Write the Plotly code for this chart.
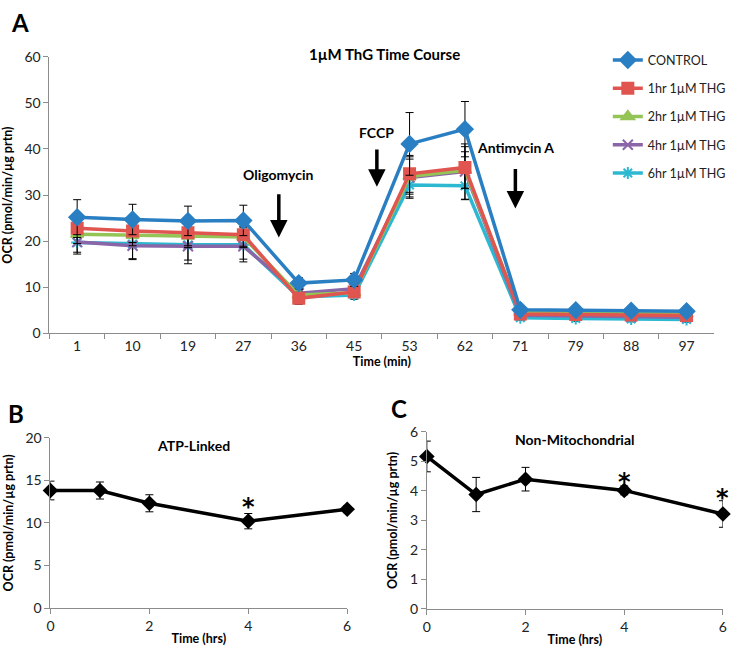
import plotly.graph_objects as go

# ---------------- data ----------------
time_min = ["1", "10", "19", "27", "36", "45", "53", "62", "71", "79", "88", "97"]
control = [25.2, 24.7, 24.4, 24.5, 10.9, 11.6, 41.1, 44.3, 5.1, 5.0, 4.9, 4.8]
control_err = [3.8, 3.3, 3.2, 3.3, 1.2, 1.4, 6.8, 6.0, 0.6, 0.6, 0.5, 0.5]
thg_1hr = [22.8, 22.2, 21.8, 21.4, 7.6, 9.0, 34.6, 36.0, 4.2, 4.1, 4.0, 3.9]
thg_1hr_err = [2.0, 2.5, 2.8, 2.5, 1.3, 1.0, 4.0, 4.5, 0.5, 0.5, 0.5, 0.5]
thg_2hr = [21.5, 21.3, 21.1, 20.9, 8.3, 8.8, 34.0, 35.4, 4.6, 4.5, 4.3, 4.2]
thg_2hr_err = [2.0, 2.3, 2.5, 2.3, 1.2, 1.0, 3.8, 4.0, 0.5, 0.5, 0.5, 0.5]
thg_4hr = [19.8, 19.0, 18.9, 18.9, 8.7, 9.7, 33.8, 35.1, 3.9, 3.8, 3.6, 3.5]
thg_4hr_err = [2.2, 2.8, 3.0, 2.8, 1.3, 1.0, 4.5, 6.0, 0.5, 0.5, 0.5, 0.5]
thg_6hr = [19.7, 19.4, 19.2, 19.2, 7.9, 8.3, 32.2, 32.0, 3.4, 3.2, 3.1, 3.0]
thg_6hr_err = [2.5, 3.4, 4.1, 3.7, 1.2, 0.9, 2.6, 3.0, 0.6, 0.6, 0.6, 0.6]

series_names = ["CONTROL", "1hr 1µM THG", "2hr 1µM THG", "4hr 1µM THG", "6hr 1µM THG"]

time_hrs = [0, 1, 2, 4, 6]
atp_linked = [13.8, 13.8, 12.3, 10.2, 11.6]
atp_linked_err = [1.1, 1.0, 1.0, 0.9, 0.4]
non_mito = [5.17, 3.88, 4.40, 4.02, 3.22]
non_mito_err = [0.52, 0.58, 0.40, 0.15, 0.45]

FONT = "Lato"
fig = go.Figure()

styles = [
    dict(color="#2A7FC3", symbol="diamond", size=12),
    dict(color="#E0554F", symbol="square", size=11),
    dict(color="#94C456", symbol="triangle-up", size=11),
    dict(color="#8A66A8", symbol="x-thin-open", size=10),
    dict(color="#2DB8D2", symbol="asterisk-open", size=10),
]
data_top = [control, thg_1hr, thg_2hr, thg_4hr, thg_6hr]
err_top = [control_err, thg_1hr_err, thg_2hr_err, thg_4hr_err, thg_6hr_err]

order = [4, 3, 2, 1, 0]
for i in order:
    st = styles[i]
    fig.add_trace(go.Scatter(
        x=time_min, y=data_top[i], name=series_names[i], mode="lines+markers",
        line=dict(color=st["color"], width=3.5),
        marker=dict(color=st["color"], symbol=st["symbol"], size=st["size"],
                    line=dict(color=st["color"], width=2)),
        error_y=dict(type="data", array=err_top[i], color="black", thickness=1, width=4),
        legendrank=i, legendgroup=str(i), cliponaxis=False,
        xaxis="x", yaxis="y"))

fig.add_trace(go.Scatter(
    x=time_hrs, y=atp_linked, mode="lines+markers", showlegend=False,
    line=dict(color="black", width=3.5),
    marker=dict(color="black", symbol="diamond", size=12),
    error_y=dict(type="data", array=atp_linked_err, color="black", thickness=1, width=4),
    cliponaxis=False, xaxis="x2", yaxis="y2"))
fig.add_trace(go.Scatter(
    x=time_hrs, y=non_mito, mode="lines+markers", showlegend=False,
    line=dict(color="black", width=3.5),
    marker=dict(color="black", symbol="diamond", size=12),
    error_y=dict(type="data", array=non_mito_err, color="black", thickness=1, width=4),
    cliponaxis=False, xaxis="x3", yaxis="y3"))

axis_common = dict(showgrid=False, zeroline=False, showline=True, linecolor="#8c8c8c",
                   linewidth=1, ticks="outside", tickcolor="#8c8c8c", ticklen=5,
                   tickfont=dict(family=FONT, size=14, color="#222"))
title_font = dict(family=FONT, size=12.5, color="black", weight="bold")

fig.update_layout(
    autosize=True, margin=dict(l=0, r=0, t=0, b=0),
    paper_bgcolor="white", plot_bgcolor="white",
    font=dict(family=FONT, color="black"),
    xaxis=dict(domain=[0.0628, 0.981], anchor="y", type="category",
               tickson="boundaries", range=[-0.5, 11.5],
               title=dict(text="Time (min)", font=title_font, standoff=1),
               **axis_common),
    yaxis=dict(domain=[0.4908, 0.925], anchor="x", range=[0, 60], dtick=10,
               title=dict(text="OCR (pmol/min/µg prtn)", font=title_font, standoff=9),
               **axis_common),
    xaxis2=dict(domain=[0.0642, 0.474], anchor="y2", range=[0, 6], tickvals=[0, 2, 4, 6],
                title=dict(text="Time (hrs)", font=title_font, standoff=1), **axis_common),
    yaxis2=dict(domain=[0.0596, 0.327], anchor="x2", range=[0, 20], dtick=5,
                title=dict(text="OCR (pmol/min/µg prtn)", font=title_font, standoff=9),
                **axis_common),
    xaxis3=dict(domain=[0.584, 0.993], anchor="y3", range=[0, 6], tickvals=[0, 2, 4, 6],
                title=dict(text="Time (hrs)", font=title_font, standoff=1), **axis_common),
    yaxis3=dict(domain=[0.0581, 0.336], anchor="x3", range=[0, 6], dtick=1,
                title=dict(text="OCR (pmol/min/µg prtn)", font=title_font, standoff=9),
                **axis_common),
    legend=dict(x=0.834, y=0.943, xanchor="left", yanchor="top", bgcolor="rgba(0,0,0,0)",
                font=dict(family=FONT, size=12.5, color="#222"), tracegroupgap=9,
                itemwidth=30),
)

ann = []
def txt(text, x, y, xref, yref, size, bold=True, xanchor="center", yanchor="middle", family=FONT):
    ann.append(dict(text=("<b>%s</b>" % text) if bold else text, x=x, y=y, xref=xref, yref=yref,
                    showarrow=False, xanchor=xanchor, yanchor=yanchor,
                    font=dict(family=family, size=size, color="black")))

# panel labels
txt("A", 5 / 732, 1 - 14 / 654, "paper", "paper", 24, xanchor="left")
txt("B", 2 / 732, 1 - 415 / 654, "paper", "paper", 24, xanchor="left")
txt("C", 389 / 732, 1 - 410 / 654, "paper", "paper", 24, xanchor="left")
# chart titles
txt("1µM ThG Time Course", 385 / 732, 1 - 46 / 654, "paper", "paper", 15)
txt("ATP-Linked", 2.9, 19.1, "x2", "y2", 14)
txt("Non-Mitochondrial", 3.0, 5.75, "x3", "y3", 14)
# treatment labels
txt("Oligomycin", 3.64, 34.5, "x", "y", 14)
txt("FCCP", 5.41, 43.6, "x", "y", 14)
txt("Antimycin A", 7.91, 40.4, "x", "y", 14)
# significance marks
txt("*", 4, 11.9, "x2", "y2", 24, bold=True, family="DejaVu Sans")
txt("*", 4, 4.3, "x3", "y3", 24, bold=True, family="DejaVu Sans")
txt("*", 6, 3.77, "x3", "y3", 24, bold=True, family="DejaVu Sans")

# arrows
for (xa, y0, y1) in [(3.64, 30.5, 20.8), (5.41, 40.2, 31.8), (7.91, 36.0, 27.1)]:
    ann.append(dict(x=xa, y=y1, ax=xa, ay=y0, xref="x", yref="y", axref="x", ayref="y",
                    text="", showarrow=True, arrowhead=2, arrowsize=1, arrowwidth=3.5,
                    arrowcolor="black"))

fig.update_layout(annotations=ann)
fig.write_html(
    "out.html",
    config={"displayModeBar": False, "responsive": True},
    default_width="100vw", default_height="100vh",
    post_script=("document.documentElement.style.margin='0';"
                 "document.body.style.margin='0';document.body.style.overflow='hidden';"
                 "Plotly.Plots.resize(document.getElementById('{plot_id}'));"),
)
